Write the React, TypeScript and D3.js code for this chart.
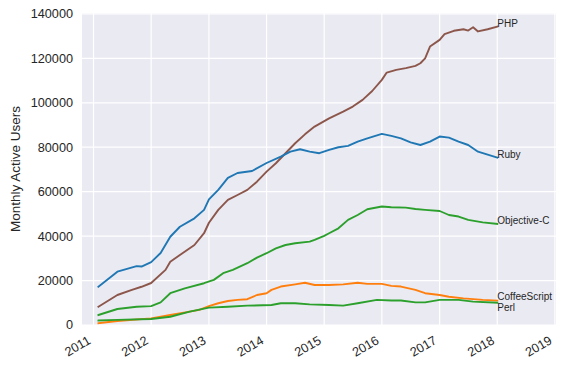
import React from 'react';
import * as d3 from 'd3';

// monthly active users per language (month, users)
const php: [string, number][] = [
  ['2011-02', 8200], ['2011-06', 13500], ['2011-09', 15800], ['2011-11', 17200],
  ['2012-01', 18900], ['2012-04', 24800], ['2012-05', 28500], ['2012-07', 31500],
  ['2012-10', 36000], ['2012-12', 41300], ['2013-01', 46000], ['2013-03', 51800],
  ['2013-05', 56300], ['2013-07', 58500], ['2013-09', 60800], ['2013-11', 64500],
  ['2014-01', 69000], ['2014-03', 72800], ['2014-05', 77300], ['2014-07', 81800],
  ['2014-09', 85800], ['2014-11', 89300], ['2015-02', 93000], ['2015-05', 96000],
  ['2015-07', 98300], ['2015-09', 101300], ['2015-11', 105300], ['2016-01', 110300],
  ['2016-02', 113600], ['2016-04', 114800], ['2016-06', 115600], ['2016-08', 116600],
  ['2016-09', 117800], ['2016-10', 120000], ['2016-11', 125300], ['2017-01', 128300],
  ['2017-02', 130900], ['2017-04', 132400], ['2017-06', 133100], ['2017-07', 132500],
  ['2017-08', 134000], ['2017-09', 132100], ['2017-11', 133100], ['2018-01', 134300],
];

const ruby: [string, number][] = [
  ['2011-02', 17200], ['2011-06', 24000], ['2011-10', 26500], ['2011-11', 26300],
  ['2012-01', 28300], ['2012-03', 32400], ['2012-05', 39700], ['2012-07', 44200],
  ['2012-10', 48000], ['2012-12', 51800], ['2013-01', 56500], ['2013-03', 60800],
  ['2013-05', 66200], ['2013-07', 68400], ['2013-10', 69300], ['2014-01', 72900],
  ['2014-04', 75800], ['2014-06', 78000], ['2014-08', 79100], ['2014-10', 78000],
  ['2014-12', 77300], ['2015-02', 78800], ['2015-04', 80000], ['2015-06', 80600],
  ['2015-08', 82500], ['2015-10', 84000], ['2016-01', 86000], ['2016-03', 85100],
  ['2016-05', 84000], ['2016-07', 82200], ['2016-09', 81000], ['2016-11', 82500],
  ['2017-01', 84800], ['2017-03', 84300], ['2017-05', 82500], ['2017-07', 81000],
  ['2017-09', 78000], ['2018-01', 75300],
];

const objc: [string, number][] = [
  ['2011-02', 4500], ['2011-06', 7200], ['2011-10', 8200], ['2012-01', 8500],
  ['2012-03', 10200], ['2012-05', 14300], ['2012-08', 16500], ['2012-12', 18800],
  ['2013-02', 20300], ['2013-04', 23300], ['2013-06', 24800], ['2013-09', 27800],
  ['2013-11', 30300], ['2014-01', 32300], ['2014-03', 34500], ['2014-05', 36000],
  ['2014-07', 36800], ['2014-10', 37500], ['2014-11', 38300], ['2015-01', 40100],
  ['2015-02', 41300], ['2015-04', 43500], ['2015-06', 47300], ['2015-08', 49500],
  ['2015-10', 52100], ['2016-01', 53300], ['2016-03', 53000], ['2016-06', 52800],
  ['2016-08', 52200], ['2016-10', 51800], ['2017-01', 51300], ['2017-03', 49500],
  ['2017-05', 48800], ['2017-07', 47300], ['2017-10', 46200], ['2018-01', 45500],
];

const coffee: [string, number][] = [
  ['2011-02', 800], ['2011-06', 1800], ['2012-01', 3000], ['2012-05', 4500],
  ['2012-09', 6000], ['2012-11', 6800], ['2013-01', 8500], ['2013-03', 9800],
  ['2013-05', 10800], ['2013-07', 11300], ['2013-09', 11600], ['2013-11', 13500],
  ['2014-01', 14300], ['2014-02', 15800], ['2014-04', 17300], ['2014-07', 18300],
  ['2014-09', 19000], ['2014-11', 18000], ['2015-02', 18000], ['2015-05', 18300],
  ['2015-08', 19000], ['2015-10', 18500], ['2016-01', 18500], ['2016-03', 17600],
  ['2016-05', 17300], ['2016-08', 15800], ['2016-10', 14300], ['2017-01', 13500],
  ['2017-03', 12700], ['2017-06', 12000], ['2017-10', 11300], ['2018-01', 11000],
];

const perl: [string, number][] = [
  ['2011-02', 2000], ['2011-06', 2300], ['2012-01', 2700], ['2012-05', 3700],
  ['2012-09', 6000], ['2013-01', 7800], ['2013-05', 8200], ['2013-09', 8700],
  ['2014-02', 9000], ['2014-04', 9800], ['2014-07', 9800], ['2014-10', 9300],
  ['2015-02', 9000], ['2015-05', 8700], ['2015-08', 9800], ['2015-12', 11300],
  ['2016-03', 11000], ['2016-05', 11000], ['2016-08', 10200], ['2016-10', 10200],
  ['2017-01', 11300], ['2017-05', 11300], ['2017-08', 10500], ['2018-01', 10000],
];

const names = ['PHP', 'Ruby', 'Objective-C', 'CoffeeScript', 'Perl'];
const seriesData = [php, ruby, objc, coffee, perl];
const colors = ['#8c564b', '#1f77b4', '#2ca02c', '#ff7f0e', '#2ca02c'];
// CoffeeScript / Perl labels pushed apart, as in the reference
const labelShift = [0, 0, 0, -1, 8];

const yTicks = [0, 20000, 40000, 60000, 80000, 100000, 120000, 140000];
const yearTicks = [2011, 2012, 2013, 2014, 2015, 2016, 2017, 2018, 2019];

const W = 568, H = 369;
const left = 82, right = 556, top = 13, bottom = 325;
const font = '"Liberation Sans", Arial, sans-serif';
const ink = '#262626';

export default function App() {
  const parse = d3.timeParse('%Y-%m');
  const x = d3.scaleTime()
    .domain([new Date(2010, 9, 20), new Date(2019, 0, 8)])
    .range([left, right]);
  const y = d3.scaleLinear().domain([0, 140400]).range([bottom, top]);

  const line = d3.line<[string, number]>()
    .x(d => x(parse(d[0]) as Date))
    .y(d => y(d[1]));

  return (
    <svg width={W} height={H} style={{ position: 'absolute', left: 0, top: 0, background: '#fff' }}
      fontFamily={font}>
      <rect x={left} y={top} width={right - left} height={bottom - top} fill="#EAEAF2" />

      {/* grid */}
      {yTicks.map(t => (
        <line key={'gy' + t} x1={left} x2={right} y1={y(t)} y2={y(t)} stroke="#fff" strokeWidth={1.2} />
      ))}
      {yearTicks.map(t => (
        <line key={'gx' + t} x1={x(new Date(t, 0, 1))} x2={x(new Date(t, 0, 1))} y1={top} y2={bottom}
          stroke="#fff" strokeWidth={1.2} />
      ))}

      {/* y tick labels */}
      {yTicks.map(t => (
        <text key={'ty' + t} x={left - 9} y={y(t)} dy="0.35em" textAnchor="end" fontSize={12.7} fill={ink}>
          {t}
        </text>
      ))}

      {/* x tick labels, rotated like autofmt_xdate */}
      {yearTicks.map(t => {
        const px = x(new Date(t, 0, 1)) - 2;
        return (
          <text key={'tx' + t} transform={`translate(${px},343) rotate(-30)`} textAnchor="end"
            fontSize={12.7} fill={ink}>
            {t}
          </text>
        );
      })}

      <text transform={`translate(20,${(top + bottom) / 2}) rotate(-90)`} textAnchor="middle"
        fontSize={13.5} fill={ink}>
        Monthly Active Users
      </text>

      {/* series */}
      {seriesData.map((s, i) => (
        <path key={names[i]} d={line(s) || ''} fill="none" stroke={colors[i]} strokeWidth={1.9}
          strokeLinejoin="round" strokeLinecap="square" />
      ))}

      {seriesData.map((s, i) => {
        const last = s[s.length - 1];
        return (
          <text key={'l' + names[i]} x={x(parse(last[0]) as Date)} y={y(last[1]) + labelShift[i]}
            fontSize={10} fill={ink}>
            {names[i]}
          </text>
        );
      })}
    </svg>
  );
}
